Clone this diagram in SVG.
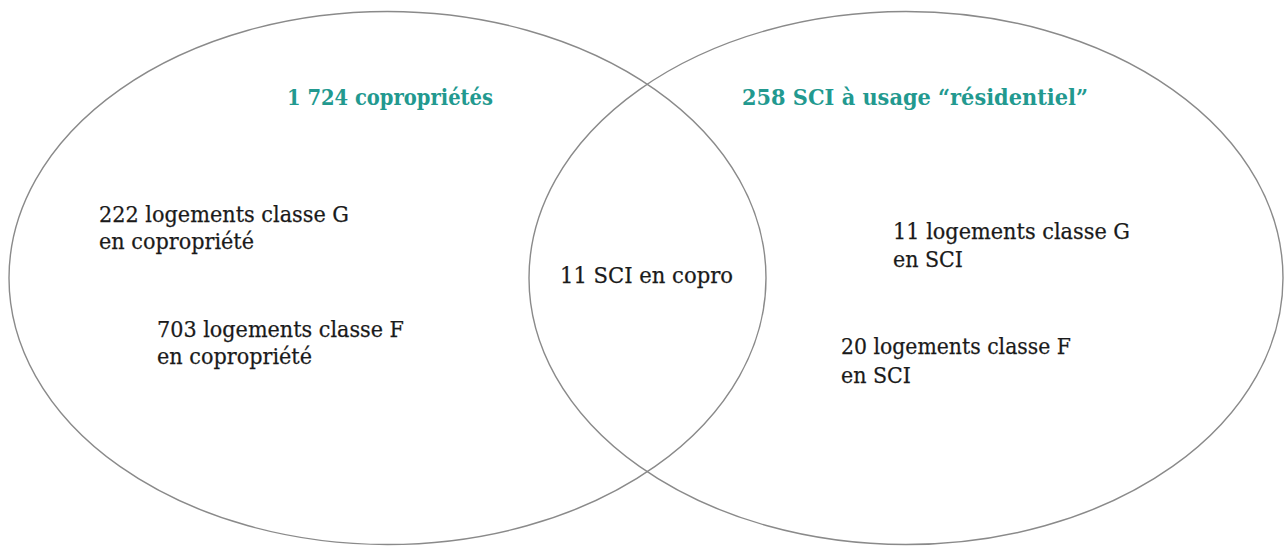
<svg xmlns="http://www.w3.org/2000/svg" width="1285" height="547" viewBox="0 0 1285 547">
<style>
.ring{fill:none;stroke:#8a8a8a;stroke-width:1.4}
.t{font-family:"DejaVu Serif","Liberation Serif",serif;font-size:23px;fill:#1a1a1a;stroke:#1a1a1a;stroke-width:0.25}
.h{font-family:"DejaVu Serif","Liberation Serif",serif;font-size:23px;font-weight:bold;fill:#22998f}
</style>
<rect width="1285" height="547" fill="#ffffff"/>
<g id="copro">
<ellipse class="ring" cx="387.5" cy="278" rx="378.5" ry="266.5"/>
<text class="h" x="287" y="105" textLength="206" lengthAdjust="spacingAndGlyphs">1 724 copropriétés</text>
<text class="t" x="99" y="222" textLength="250" lengthAdjust="spacingAndGlyphs">222 logements classe G</text>
<text class="t" x="99" y="249" textLength="155" lengthAdjust="spacingAndGlyphs">en copropriété</text>
<text class="t" x="157" y="337" textLength="247" lengthAdjust="spacingAndGlyphs">703 logements classe F</text>
<text class="t" x="157" y="364" textLength="155" lengthAdjust="spacingAndGlyphs">en copropriété</text>
</g>
<g id="sci">
<ellipse class="ring" cx="906" cy="278" rx="377" ry="266.5"/>
<text class="h" x="742" y="105" textLength="346" lengthAdjust="spacingAndGlyphs">258 SCI à usage “résidentiel”</text>
<text class="t" x="893" y="239" textLength="237" lengthAdjust="spacingAndGlyphs">11 logements classe G</text>
<text class="t" x="893" y="267" textLength="70" lengthAdjust="spacingAndGlyphs">en SCI</text>
<text class="t" x="841" y="354" textLength="230" lengthAdjust="spacingAndGlyphs">20 logements classe F</text>
<text class="t" x="841" y="383" textLength="70" lengthAdjust="spacingAndGlyphs">en SCI</text>
</g>
<g id="intersection">
<text class="t" x="560" y="283" textLength="173" lengthAdjust="spacingAndGlyphs">11 SCI en copro</text>
</g>
<g id="connectors"></g>
</svg>
